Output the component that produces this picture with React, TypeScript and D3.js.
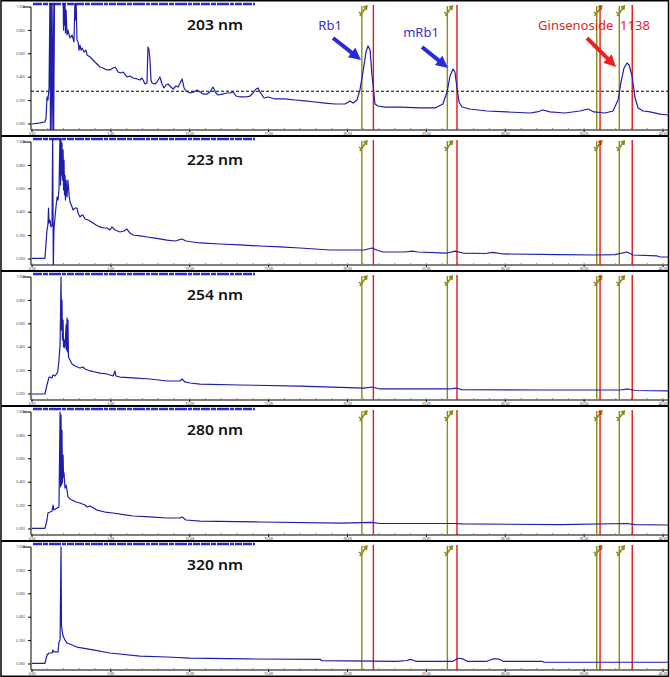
import React from "react";
import * as d3 from "d3";

// ---------- data ----------
const wavelengthLabels = ["203 nm", "223 nm", "254 nm", "280 nm", "320 nm"];

// retention time (min), absorbance (relative AU)
const trace203: [number, number][] = [
  [0, 0.0], [0.51, 0.009], [0.82, 0.017], [0.89, 0.051], [0.95, 0.231], [1.01, 0.205], [1.08, 0.308],
  [1.14, 1.1], [1.17, -0.1], [1.22, 1.1], [1.27, -0.1], [1.33, 1.1], [1.37, -0.1], [1.43, 1.1],
  [1.78, 1.2], [1.97, 1.1], [2.0, 0.803], [2.03, 1.1], [2.06, 0.846], [2.09, 1.1], [2.12, 0.778],
  [2.16, 0.974], [2.22, 0.761], [2.28, 0.803], [2.41, 0.735], [2.54, 0.761], [2.66, 0.701], [2.73, 1.1],
  [2.76, 0.889], [2.79, 1.1], [2.85, 0.718], [2.92, 0.701], [2.98, 0.632], [3.04, 0.675], [3.11, 0.632],
  [3.17, 0.65], [3.3, 0.615], [3.42, 0.632], [3.49, 0.59], [3.68, 0.573], [3.87, 0.547], [3.99, 0.53],
  [4.12, 0.513], [4.31, 0.487], [4.5, 0.479], [4.75, 0.462], [4.94, 0.462], [5.14, 0.479], [5.26, 0.487],
  [5.39, 0.462], [5.45, 0.444], [5.64, 0.436], [5.77, 0.444], [5.83, 0.436], [6.02, 0.402], [6.21, 0.41],
  [6.4, 0.393], [6.66, 0.385], [6.85, 0.376], [6.97, 0.393], [7.04, 0.376], [7.16, 0.342], [7.29, 0.35],
  [7.35, 0.658], [7.42, 0.632], [7.48, 0.547], [7.54, 0.376], [7.61, 0.35], [7.8, 0.342], [7.92, 0.359],
  [8.11, 0.402], [8.24, 0.342], [8.37, 0.308], [8.49, 0.333], [8.62, 0.342], [8.81, 0.316], [8.94, 0.299],
  [9.13, 0.325], [9.26, 0.316], [9.51, 0.385], [9.64, 0.308], [9.76, 0.282], [10.02, 0.265], [10.27, 0.274],
  [10.46, 0.291], [10.65, 0.274], [10.84, 0.256], [11.09, 0.256], [11.28, 0.274], [11.47, 0.316],
  [11.66, 0.265], [11.79, 0.248], [12.04, 0.256], [12.36, 0.265], [12.55, 0.265], [12.74, 0.274],
  [12.94, 0.239], [13.19, 0.231], [13.5, 0.231], [13.82, 0.239], [14.01, 0.265], [14.2, 0.299],
  [14.33, 0.308], [14.45, 0.274], [14.71, 0.222], [14.96, 0.231], [15.4, 0.214], [16.04, 0.214],
  [16.67, 0.205], [17.31, 0.197], [17.94, 0.188], [18.57, 0.179], [19.21, 0.171], [19.84, 0.171],
  [20.16, 0.197], [20.35, 0.179], [20.6, 0.205], [20.79, 0.291], [20.98, 0.444], [21.17, 0.615],
  [21.3, 0.667], [21.43, 0.632], [21.55, 0.419], [21.62, 0.333], [21.74, 0.171], [21.93, 0.154],
  [22.38, 0.145], [23.33, 0.145], [24.6, 0.137], [25.55, 0.137], [26.05, 0.171], [26.31, 0.274],
  [26.5, 0.41], [26.69, 0.47], [26.81, 0.444], [26.94, 0.308], [27.07, 0.188], [27.26, 0.145],
  [27.76, 0.128], [28.84, 0.111], [30.11, 0.103], [31.57, 0.094], [32.01, 0.103], [32.39, 0.12],
  [32.83, 0.103], [33.78, 0.094], [34.73, 0.111], [35.25, 0.128], [35.62, 0.103], [36.32, 0.094],
  [36.83, 0.111], [37.15, 0.205], [37.34, 0.359], [37.53, 0.479], [37.72, 0.521], [37.85, 0.504],
  [38.04, 0.41], [38.23, 0.222], [38.42, 0.137], [38.73, 0.111], [39.18, 0.103], [39.81, 0.085],
  [40.32, 0.077],
];

const trace223: [number, number][] = [
  [0, 0.006], [0.82, 0.006], [0.95, 0.248], [1.01, 0.291], [1.05, 0.436], [1.08, 0.308], [1.14, 0.333],
  [1.2, 0.274], [1.27, 0.291], [1.31, 1.1], [1.35, -0.1], [1.39, 0.248], [1.46, 0.359], [1.52, 0.444],
  [1.59, 0.53], [1.65, 0.504], [1.71, 0.59], [1.78, 1.1], [1.81, 0.632], [1.84, 1.1], [1.87, 0.718],
  [1.9, 0.991], [1.93, 0.675], [1.97, 0.932], [2.0, 0.59], [2.03, 0.846], [2.06, 0.547], [2.09, 0.718],
  [2.12, 0.504], [2.16, 0.675], [2.22, 0.53], [2.28, 0.675], [2.35, 0.547], [2.41, 0.487], [2.54, 0.444],
  [2.6, 0.419], [2.73, 0.436], [2.85, 0.436], [2.92, 0.393], [3.04, 0.359], [3.17, 0.376], [3.23, 0.376],
  [3.36, 0.342], [3.55, 0.333], [3.68, 0.325], [3.87, 0.308], [4.06, 0.291], [4.31, 0.274], [4.56, 0.265],
  [4.75, 0.265], [4.94, 0.248], [5.07, 0.274], [5.26, 0.248], [5.58, 0.231], [5.83, 0.239], [6.02, 0.256],
  [6.21, 0.222], [6.4, 0.205], [6.85, 0.197], [7.29, 0.188], [7.8, 0.179], [8.56, 0.162], [9.06, 0.154],
  [9.51, 0.171], [9.76, 0.154], [10.65, 0.137], [11.92, 0.128], [13.19, 0.12], [14.45, 0.111],
  [15.72, 0.103], [16.99, 0.094], [18.89, 0.077], [21.05, 0.077], [21.55, 0.094], [21.93, 0.073],
  [22.25, 0.06], [23.65, 0.06], [24.09, 0.068], [24.47, 0.06], [26.31, 0.051], [26.81, 0.068],
  [27.32, 0.051], [28.72, 0.047], [29.22, 0.056], [29.86, 0.043], [33.47, 0.038], [35.82, 0.034],
  [36.96, 0.038], [37.72, 0.06], [38.1, 0.034], [39.62, 0.026], [39.81, 0.017], [40.32, 0.017],
];

const trace254: [number, number][] = [
  [0, 0.0], [0.82, 0.0], [0.95, 0.077], [1.08, 0.145], [1.14, 0.145], [1.27, 0.137], [1.33, 0.162],
  [1.46, 0.154], [1.59, 0.179], [1.65, 0.205], [1.71, 0.291], [1.78, 0.419], [1.84, 1.0], [1.87, 0.547],
  [1.9, 0.803], [1.93, 0.462], [1.97, 0.632], [2.0, 0.402], [2.03, 0.462], [2.09, 0.393], [2.16, 0.59],
  [2.19, 0.376], [2.22, 0.65], [2.25, 0.359], [2.28, 0.632], [2.31, 0.316], [2.41, 0.291], [2.54, 0.256],
  [2.73, 0.239], [3.04, 0.222], [3.23, 0.231], [3.36, 0.214], [3.68, 0.197], [3.99, 0.188], [4.31, 0.179],
  [4.75, 0.171], [5.14, 0.154], [5.26, 0.197], [5.32, 0.154], [5.58, 0.145], [6.4, 0.137], [7.48, 0.128],
  [8.56, 0.111], [9.38, 0.111], [9.51, 0.128], [9.7, 0.103], [10.02, 0.094], [10.65, 0.085], [13.19, 0.077],
  [16.99, 0.068], [21.05, 0.051], [21.55, 0.06], [22.06, 0.043], [26.5, 0.043], [26.88, 0.051],
  [27.25, 0.038], [32.2, 0.034], [37.27, 0.034], [37.78, 0.043], [38.23, 0.03], [40.32, 0.026],
];

const trace280: [number, number][] = [
  [0, 0.006], [0.82, 0.006], [0.95, 0.077], [1.01, 0.137], [1.14, 0.145], [1.27, 0.154], [1.33, 0.205],
  [1.39, 0.162], [1.59, 0.179], [1.71, 0.188], [1.78, 1.0], [1.81, 0.359], [1.84, 0.974], [1.87, 0.376],
  [1.9, 0.846], [1.93, 0.393], [1.97, 0.632], [2.0, 0.444], [2.03, 0.479], [2.09, 0.35], [2.16, 0.376],
  [2.22, 0.333], [2.28, 0.274], [2.41, 0.256], [2.54, 0.248], [2.79, 0.231], [3.04, 0.222], [3.36, 0.205],
  [3.49, 0.188], [3.68, 0.197], [4.12, 0.162], [4.63, 0.145], [5.14, 0.137], [5.9, 0.12], [6.4, 0.111],
  [7.48, 0.103], [8.56, 0.094], [9.38, 0.094], [9.51, 0.103], [9.76, 0.077], [10.65, 0.068], [14.45, 0.06],
  [19.52, 0.051], [21.55, 0.056], [22.06, 0.047], [26.81, 0.047], [27.26, 0.043], [33.47, 0.038],
  [37.72, 0.047], [38.23, 0.038], [40.32, 0.034],
];

const trace320: [number, number][] = [
  [0, 0.006], [0.82, 0.006], [0.95, 0.077], [1.08, 0.094], [1.27, 0.094], [1.33, 0.12], [1.39, 0.103],
  [1.65, 0.103], [1.71, 0.188], [1.78, 0.205], [1.84, 1.0], [1.87, 0.333], [1.9, 0.291], [1.97, 0.239],
  [2.09, 0.205], [2.22, 0.179], [2.54, 0.162], [2.85, 0.145], [3.87, 0.12], [4.94, 0.094], [6.85, 0.068],
  [8.56, 0.06], [9.99, 0.051], [13.63, 0.043], [18.26, 0.04], [18.38, 0.028], [23.14, 0.023], [23.77, 0.03],
  [23.96, 0.04], [24.15, 0.034], [24.34, 0.023], [26.69, 0.023], [27.0, 0.049], [27.32, 0.043],
  [27.58, 0.023], [28.84, 0.023], [29.22, 0.043], [29.48, 0.045], [29.67, 0.038], [29.86, 0.023],
  [32.33, 0.023], [32.46, 0.015], [40.32, 0.015],
];

const traces = [trace203, trace223, trace254, trace280, trace320];

// integration event marks (min)
const peakStartMarks = [20.91, 26.33, 35.8, 37.23];
const peakEndMarks = [21.64, 26.94, 36.01, 38.05];

const xTickValues = [0, 5, 10, 15, 20, 25, 30, 35, 40];
const xMinorTickValues = d3.range(0, 41, 1);
const yTickValues = [0, 0.2, 0.4, 0.6, 0.8, 1.0];
const thresholdLevel = 0.28;

// annotations (panel 0): label, tip time, tip absorbance
const annotLabels = ["Rb1", "mRb1", "Ginsenoside  1138"];
const annotTipTimes = [20.86, 26.37, 37.02];
const annotTipValues = [0.547, 0.479, 0.487];

// ---------- layout ----------
const W = 670;
const H = 677;
const PANEL_H = 135;
const X0 = 31;
const XR = 668;

const annotStyle = [
  { color: "#2a2ad8", textColor: "#3434c4", tail: [-28, -22], text: [-31, -30] },
  { color: "#2a2ad8", textColor: "#3434c4", tail: [-26, -21], text: [-27, -31] },
  { color: "#ee2222", textColor: "#e0262c", tail: [-29, -29], text: [-22, -37] },
];

function Arrow({ x1, y1, x2, y2, color }: { x1: number; y1: number; x2: number; y2: number; color: string }) {
  const ang = Math.atan2(y2 - y1, x2 - x1);
  const headLen = 12;
  const headW = 6;
  const bx = x2 - headLen * Math.cos(ang);
  const by = y2 - headLen * Math.sin(ang);
  const px = -Math.sin(ang);
  const py = Math.cos(ang);
  const pts = [
    [x2, y2],
    [bx + px * headW, by + py * headW],
    [bx - px * headW, by - py * headW],
  ];
  return (
    <g>
      <line x1={x1} y1={y1} x2={bx + 2 * Math.cos(ang)} y2={by + 2 * Math.sin(ang)} stroke={color} strokeWidth={4} />
      <polygon points={pts.map((p) => p.join(",")).join(" ")} fill={color} />
    </g>
  );
}

export default function App() {
  const x = d3.scaleLinear().domain([0, 40]).range([32, 663]);

  return (
    <svg
      width={W}
      height={H}
      viewBox={`0 0 ${W} ${H}`}
      style={{ position: "absolute", left: 0, top: 0, background: "#fff" }}
      fontFamily="'Noto Sans', 'DejaVu Sans', sans-serif"
    >
      <rect x={0} y={0} width={W} height={H} fill="#fff" />
      <defs>
        {traces.map((_, i) => {
          const top = 1 + i * PANEL_H;
          return (
            <clipPath id={`clip${i}`} key={i}>
              <rect x={X0} y={top + 2} width={XR - X0} height={127} />
            </clipPath>
          );
        })}
      </defs>
      {traces.map((tr, i) => {
        const top = 1 + i * PANEL_H;
        const axisY = top + 129;
        const y = d3.scaleLinear().domain([0, 1]).range([top + 123, top + 6]);
        const line = d3
          .line<[number, number]>()
          .x((d) => x(d[0]))
          .y((d) => y(d[1]));
        return (
          <g key={i}>
            {/* top event band */}
            <line x1={33} x2={255} y1={top + 3} y2={top + 3} stroke="#2a2ad0" strokeWidth={2.6}
              strokeDasharray="9 1 5 1 12 1 4 1 7 1" />
            {/* y axis */}
            <line x1={X0} x2={X0} y1={top + 6} y2={axisY} stroke="#000" strokeWidth={1} />
            {yTickValues.map((v) => (
              <g key={v}>
                <line x1={v === 1 ? X0 - 8 : X0 - 3} x2={X0} y1={y(v)} y2={y(v)} stroke="#000" strokeWidth={1} />
                <text x={X0 - 6} y={y(v) + 1.2} fontSize={3.4} textAnchor="end" fill="#444">
                  {v.toFixed(3)}
                </text>
              </g>
            ))}
            {/* x axis */}
            <line x1={X0} x2={XR} y1={axisY} y2={axisY} stroke="#000" strokeWidth={1.2} />
            {xMinorTickValues.map((t) => (
              <line key={t} x1={x(t)} x2={x(t)} y1={axisY} y2={axisY - 2} stroke="#777" strokeWidth={0.8} />
            ))}
            {xTickValues.map((t) => (
              <g key={t}>
                <line x1={x(t)} x2={x(t)} y1={axisY} y2={axisY + 2} stroke="#000" strokeWidth={1} />
                <text x={x(t)} y={axisY + 5} fontSize={3.4} textAnchor="middle" fill="#333">
                  {t.toFixed(2)}
                </text>
              </g>
            ))}
            {/* threshold line */}
            {i === 0 && (
              <line x1={X0} x2={XR} y1={y(thresholdLevel)} y2={y(thresholdLevel)} stroke="#000"
                strokeWidth={1} strokeDasharray="3 2" />
            )}
            {/* integration marks */}
            {peakStartMarks.map((t) => (
              <g key={`s${t}`}>
                <line x1={x(t)} x2={x(t)} y1={top + 5} y2={axisY} stroke="#8c8c14" strokeWidth={1.4} />
                <path
                  d={`M${x(t) - 2},${top + 15} L${x(t) + 5},${top + 5} M${x(t) + 1.5},${top + 6} L${x(t) + 5},${top + 5} L${x(t) + 4.5},${top + 9} M${x(t) - 3},${top + 11} L${x(t) - 0.5},${top + 13}`}
                  stroke="#8c8c14" strokeWidth={1.6} fill="none" />
              </g>
            ))}
            {peakEndMarks.map((t) => (
              <line key={`e${t}`} x1={x(t)} x2={x(t)} y1={top + 4} y2={axisY} stroke="#e01818" strokeWidth={1.4} />
            ))}
            {/* trace */}
            <path d={line(tr) || ""} fill="none" stroke="#1e1eaa" strokeWidth={1.2} clipPath={`url(#clip${i})`}
              strokeLinejoin="round" />
            {/* wavelength label */}
            <text x={187} y={top + 29} fontSize={15} fontWeight={600} fill="#111" textLength={56}
              lengthAdjust="spacingAndGlyphs">
              {wavelengthLabels[i]}
            </text>
            {/* annotations */}
            {i === 0 &&
              annotLabels.map((lab, k) => {
                const tx = x(annotTipTimes[k]);
                const ty = y(annotTipValues[k]);
                const st = annotStyle[k];
                return (
                  <g key={lab}>
                    <Arrow x1={tx + st.tail[0]} y1={ty + st.tail[1]} x2={tx} y2={ty} color={st.color} />
                    <text x={tx + st.text[0]} y={ty + st.text[1]} fontSize={13} fill={st.textColor}
                      textAnchor="middle" style={{ whiteSpace: "pre" }}>
                      {lab}
                    </text>
                  </g>
                );
              })}
            {/* separator */}
            {i > 0 && <line x1={1} x2={669} y1={top} y2={top} stroke="#000" strokeWidth={2} />}
          </g>
        );
      })}
      <rect x={1} y={0.75} width={667.5} height={675.5} fill="none" stroke="#000" strokeWidth={1.5} />
    </svg>
  );
}
